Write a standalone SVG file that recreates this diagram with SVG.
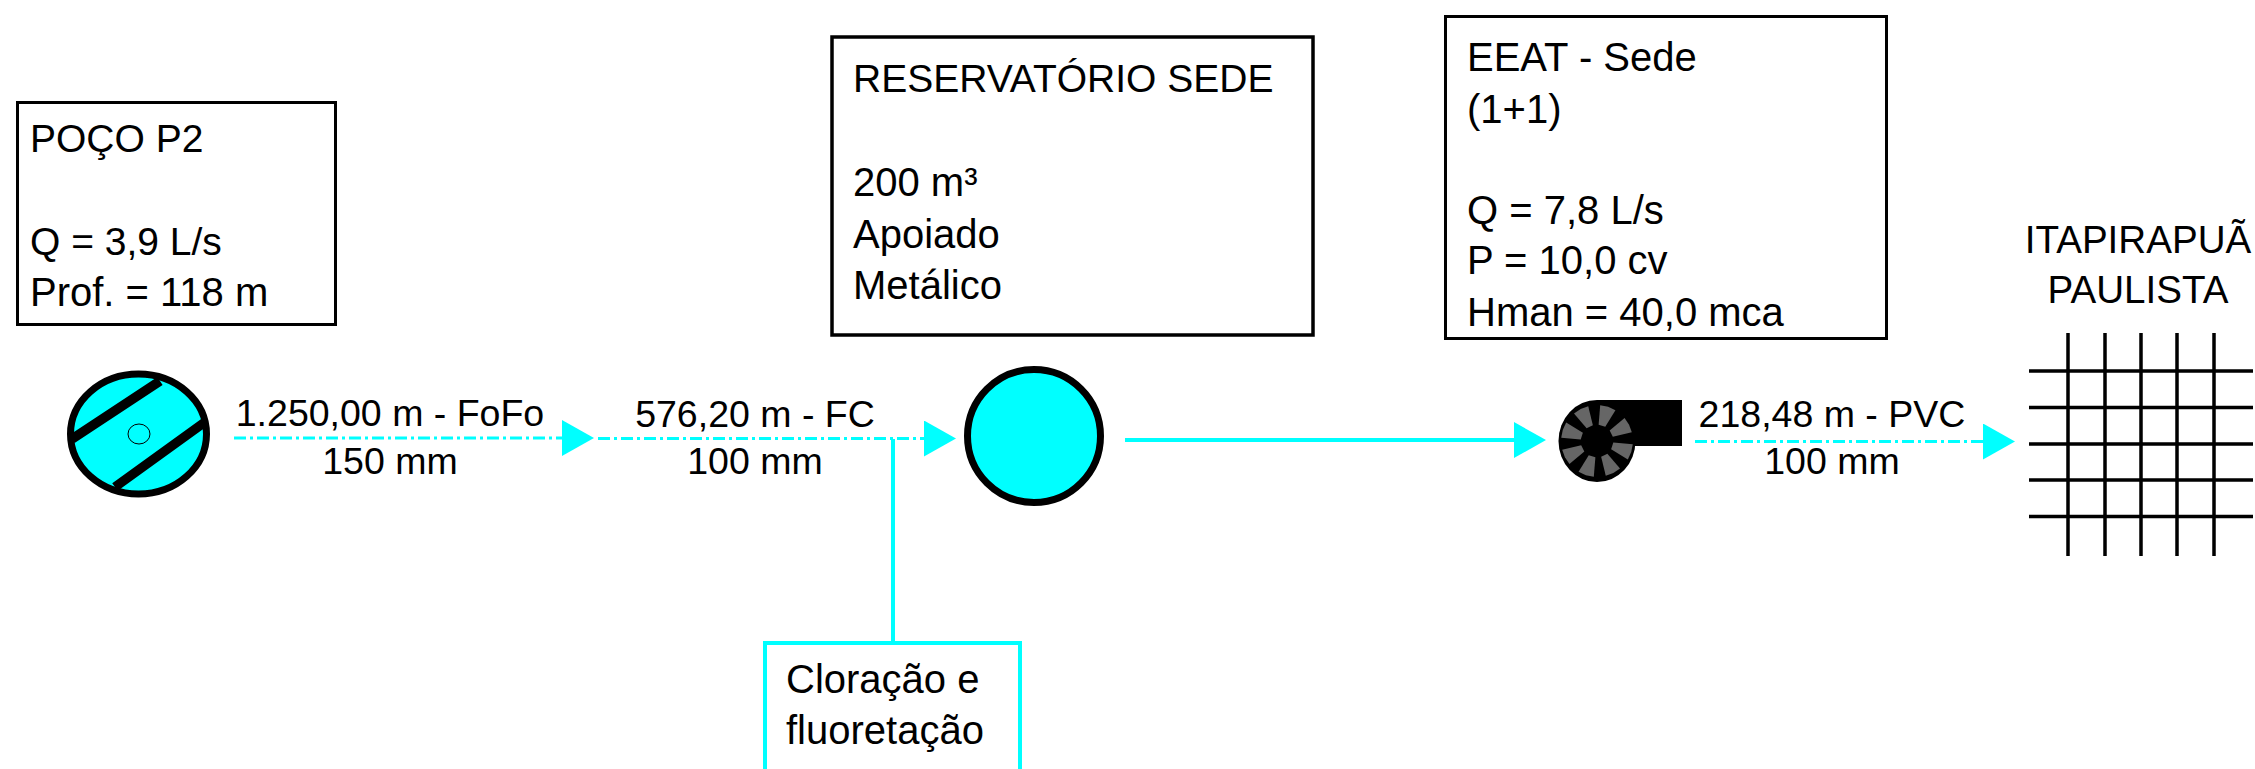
<svg xmlns="http://www.w3.org/2000/svg" xmlns:xlink="http://www.w3.org/1999/xlink" width="2255" height="769" viewBox="0 0 2255 769">
<style>
text{font-family:"Liberation Sans",Arial,sans-serif;font-size:40px;fill:#000}
.lbl{font-size:37.500px;text-anchor:middle}
.city{font-size:38.600px;text-anchor:middle}
.box{fill:#fff;stroke:#000}
.pipe{fill:none;stroke:#00ffff;stroke-width:3}
.dd{stroke-dasharray:12 4 3 4}
.solid{fill:none;stroke:#00ffff;stroke-width:4}
.tank{fill:#00ffff;stroke:#000;stroke-width:7}
.bar{stroke:#000;stroke-width:9.500;fill:none}
.grid{stroke:#000;stroke-width:3.500;fill:none}
.blade{fill:#666}
</style>
<defs>
<marker id="arrow" markerUnits="userSpaceOnUse" markerWidth="32" markerHeight="36" refX="0" refY="18" orient="auto"><path d="M0 0L32 18L0 36Z" fill="#00ffff"/></marker>
<polygon id="blade" class="blade" points="16,-3.500 35,-8 36,0 35,8 16,3.500"/>
</defs>
<rect width="2255" height="769" fill="#fff"/>
<g id="connectors">
<path class="pipe dd" d="M234 438H562" marker-end="url(#arrow)"/>
<path class="pipe dd" d="M598 438.500H924" marker-end="url(#arrow)"/>
<path class="solid" d="M893 439V643"/>
<path class="solid" d="M1125 440H1514" marker-end="url(#arrow)"/>
<path class="pipe dd" d="M1695 441.500H1983" marker-end="url(#arrow)"/>
</g>
<g id="poco-box">
<rect class="box" x="17.500" y="102.500" width="318" height="222" stroke-width="3"/>
<text x="30" y="152" style="font-size:39px">POÇO P2</text>
<text x="30" y="255" style="font-size:39px">Q = 3,9 L/s</text>
<text x="30" y="306">Prof. = 118 m</text>
</g>
<g id="poco">
<ellipse class="tank" cx="138.500" cy="434" rx="68" ry="60"/>
<path class="bar" d="M72 439L160 381M115 487L205 422"/>
<ellipse cx="139" cy="434" rx="11" ry="10" fill="none" stroke="#000" stroke-width="1"/>
</g>
<g id="label-1"><text class="lbl" x="390" y="426">1.250,00 m - FoFo</text><text class="lbl" x="390" y="474">150 mm</text></g>
<g id="label-2"><text class="lbl" x="755" y="427">576,20 m - FC</text><text class="lbl" x="755" y="474">100 mm</text></g>
<g id="reservatorio-box">
<rect class="box" x="832" y="37" width="481" height="298" stroke-width="3.500"/>
<text x="853" y="92" style="font-size:39px">RESERVATÓRIO SEDE</text>
<text x="853" y="196">200 m³</text>
<text x="853" y="248">Apoiado</text>
<text x="853" y="299">Metálico</text>
</g>
<g id="reservatorio"><circle class="tank" cx="1034" cy="436" r="66.500"/></g>
<g id="cloracao">
<path class="solid" d="M765 769V643H1020V769"/>
<text x="786" y="693">Cloração e</text>
<text x="786" y="744">fluoretação</text>
</g>
<g id="eeat-box">
<rect class="box" x="1445.500" y="16.500" width="441" height="322" stroke-width="3"/>
<text x="1467" y="71">EEAT - Sede</text>
<text x="1467" y="123">(1+1)</text>
<text x="1467" y="224">Q = 7,8 L/s</text>
<text x="1467" y="274">P = 10,0 cv</text>
<text x="1467" y="326">Hman = 40,0 mca</text>
</g>
<g id="bomba">
<ellipse cx="1597" cy="441" rx="38.500" ry="41"/>
<rect x="1597" y="400" width="85" height="46"/>
<g transform="translate(1597 441)">
<use xlink:href="#blade" href="#blade" transform="rotate(-72)"/>
<use xlink:href="#blade" href="#blade" transform="rotate(-27)"/>
<use xlink:href="#blade" href="#blade" transform="rotate(18)"/>
<use xlink:href="#blade" href="#blade" transform="rotate(63)"/>
<use xlink:href="#blade" href="#blade" transform="rotate(108)"/>
<use xlink:href="#blade" href="#blade" transform="rotate(153)"/>
<use xlink:href="#blade" href="#blade" transform="rotate(198)"/>
<use xlink:href="#blade" href="#blade" transform="rotate(243)"/>
</g>
</g>
<g id="label-3"><text class="lbl" x="1832" y="427">218,48 m - PVC</text><text class="lbl" x="1832" y="474">100 mm</text></g>
<g id="itapirapua">
<text class="city" x="2138" y="253">ITAPIRAPUÃ</text>
<text class="city" x="2138" y="303">PAULISTA</text>
<path class="grid" d="M2068 333V556M2105 333V556M2141 333V556M2177 333V556M2214 333V556M2029 371H2253M2029 407.500H2253M2029 444H2253M2029 480H2253M2029 516.500H2253"/>
</g>
</svg>
